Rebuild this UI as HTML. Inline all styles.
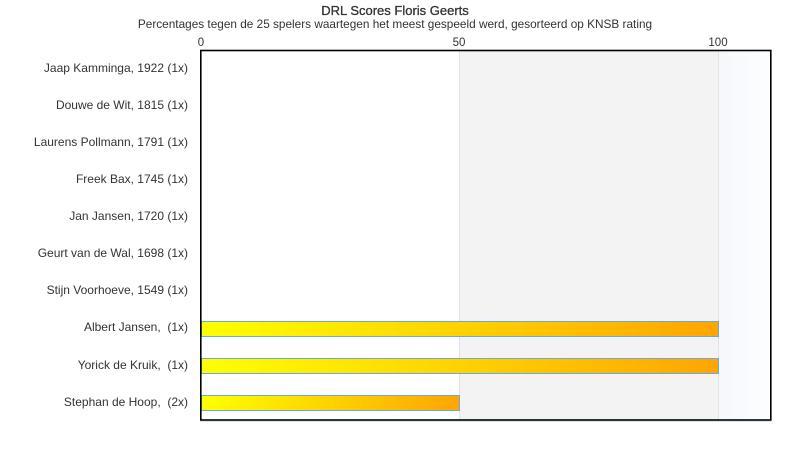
<!DOCTYPE html>
<html>
<head>
<meta charset="utf-8">
<style>
html,body{margin:0;padding:0;background:#fff;}
svg{display:block;}
text{font-family:"Liberation Sans",sans-serif;fill:#333;white-space:pre;}
</style>
</head>
<body>
<svg width="790" height="450" viewBox="0 0 790 450" xmlns="http://www.w3.org/2000/svg">
<defs>
<linearGradient id="bar" x1="0" y1="0" x2="1" y2="0">
<stop offset="0" stop-color="#ffff00"/>
<stop offset="1" stop-color="#ffa500"/>
</linearGradient>
<linearGradient id="blue" x1="0" y1="0" x2="1" y2="0">
<stop offset="0" stop-color="#f5f8fc"/>
<stop offset="1" stop-color="#fdfeff"/>
</linearGradient>
</defs>
<rect x="0" y="0" width="790" height="450" fill="#fff"/>
<text x="395" y="15" text-anchor="middle" font-size="13" style="fill:#333;stroke:#333;stroke-width:0.3">DRL Scores Floris Geerts</text>
<text x="395" y="28" text-anchor="middle" font-size="11.8">Percentages tegen de 25 spelers waartegen het meest gespeeld werd, gesorteerd op KNSB rating</text>
<text x="201" y="46" text-anchor="middle" font-size="11.5">0</text>
<text x="459" y="46" text-anchor="middle" font-size="11.5">50</text>
<text x="718" y="46" text-anchor="middle" font-size="11.5">100</text>
<!-- plot backgrounds -->
<rect x="459" y="50" width="259" height="370" fill="#f3f3f3"/>
<rect x="718" y="50" width="53" height="370" fill="url(#blue)"/>
<line x1="459.5" y1="50" x2="459.5" y2="420" stroke="#e2e2e2" stroke-width="1"/>
<line x1="718.5" y1="50" x2="718.5" y2="420" stroke="#e2e2e2" stroke-width="1"/>
<!-- bars -->
<rect x="201.5" y="321.5" width="517" height="15" fill="url(#bar)" stroke="#66aaee" stroke-width="1"/>
<rect x="201.5" y="358.5" width="517" height="15" fill="url(#bar)" stroke="#66aaee" stroke-width="1"/>
<rect x="201.5" y="395.5" width="258" height="15" fill="url(#bar)" stroke="#66aaee" stroke-width="1"/>
<!-- frame -->
<line x1="200" y1="421.5" x2="771" y2="421.5" stroke="#cfe8f0" stroke-width="1"/>
<rect x="200.8" y="50.5" width="570" height="369.5" fill="none" stroke="#000" stroke-width="1.6"/>
<!-- labels -->
<g font-size="12" text-anchor="end">
<text x="188" y="72">Jaap Kamminga, 1922 (1x)</text>
<text x="188" y="109">Douwe de Wit, 1815 (1x)</text>
<text x="188" y="146">Laurens Pollmann, 1791 (1x)</text>
<text x="188" y="183">Freek Bax, 1745 (1x)</text>
<text x="188" y="220">Jan Jansen, 1720 (1x)</text>
<text x="188" y="257">Geurt van de Wal, 1698 (1x)</text>
<text x="188" y="294">Stijn Voorhoeve, 1549 (1x)</text>
<text x="188" y="331">Albert Jansen,&#160; (1x)</text>
<text x="188" y="369">Yorick de Kruik,&#160; (1x)</text>
<text x="188" y="406">Stephan de Hoop,&#160; (2x)</text>
</g>
</svg>
</body>
</html>
